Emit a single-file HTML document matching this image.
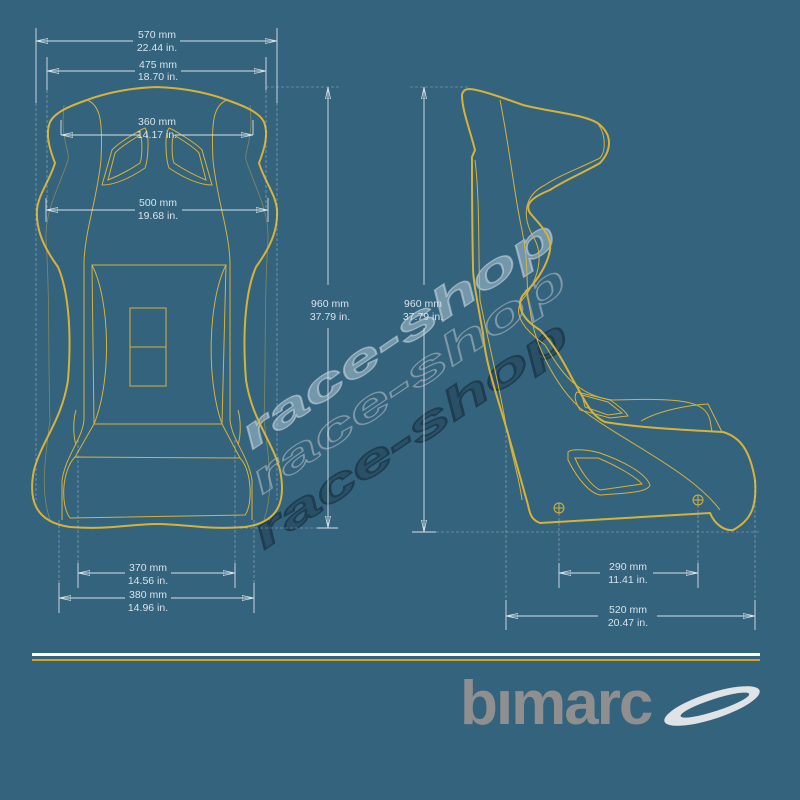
<!DOCTYPE html>
<html><head><meta charset="utf-8"><style>
html,body{margin:0;padding:0;background:#34637d;}
svg{display:block}
text{font-family:"Liberation Sans","DejaVu Sans",sans-serif;}
</style></head><body>
<svg width="800" height="800" viewBox="0 0 800 800" xmlns="http://www.w3.org/2000/svg">
<rect width="800" height="800" fill="#34637d"/>
<defs>
<marker id="a" viewBox="0 0 12 6" refX="12" refY="3" markerWidth="12" markerHeight="6" orient="auto-start-reverse" markerUnits="userSpaceOnUse"><path d="M0,0.5 L12,3 L0,5.5 Z" fill="none" stroke="#d8e2e8" stroke-width="0.8"/></marker>
</defs>

<!-- watermark -->
<g font-weight="bold" font-style="italic" font-size="42">
<text x="0" y="0" transform="translate(252,450) rotate(-34) scale(1.85,1)" fill="#a9c2d0" fill-opacity="0.55" stroke="#c8d8e2" stroke-opacity="0.6" stroke-width="1.2">race-shop</text>
<text x="0" y="0" transform="translate(262,495) rotate(-34) scale(1.85,1)" fill="none" stroke="#7f97a6" stroke-width="1.2">race-shop</text>
<text x="0" y="0" transform="translate(264,550) rotate(-34) scale(1.85,1)" fill="#2a5068" stroke="#1e3d50" stroke-width="1.6">race-shop</text>
</g>

<!-- front seat -->
<g fill="none" stroke="#d7b23a">
<path stroke-width="2" d="M157,87 C125,88 100,95 87,100 C70,106 55,112 50,122 C45,135 50,150 55,163 C50,180 38,195 37,210 C36,228 42,245 58,267 C68,290 72,330 68,380 C62,420 42,440 34,470 C28,500 35,522 70,527 C110,530 130,524 157,524 C185,524 205,530 245,527 C280,522 286,500 280,470 C272,440 252,420 246,380 C242,330 246,290 256,267 C272,245 278,228 277,210 C276,195 264,180 259,163 C264,150 269,135 264,122 C259,112 244,106 227,100 C214,95 189,88 157,87 Z"/>
<g stroke-width="1">
<path d="M87,100 C100,105 103,120 101,160 C97,200 85,230 84,262 L84,420 C82,440 66,455 62,480 L62,520"/>
<path d="M227,100 C214,105 211,120 213,160 C217,200 229,230 230,262 L230,420 C232,440 248,455 252,480 L252,520"/>
<path d="M92,265 L226,265 L222,424 L94,424 Z"/>
<path d="M92,265 C110,300 112,380 94,424 M226,265 C208,300 206,380 222,424"/>
<path d="M75,457 L240,458 C252,470 253,505 245,515 L70,518 C60,505 62,470 75,457 Z"/>
<path d="M94,424 L75,457 M222,424 L240,458"/>
<rect x="130" y="308" width="36" height="78"/>
<line x1="130" y1="347" x2="166" y2="347"/>
<path d="M102,185 L112,150 C118,143 140,130 145,128 C150,135 148,160 145,168 C130,178 115,185 102,185 Z"/>
<path d="M108,180 L115,153 C120,147 135,138 140,135 C143,140 142,158 140,163 C128,171 118,176 108,180 Z"/>
<path d="M212,185 L202,150 C196,143 174,130 169,128 C164,135 166,160 169,168 C184,178 199,185 212,185 Z"/>
<path d="M206,180 L199,153 C194,147 179,138 174,135 C171,140 172,158 174,163 C186,171 196,176 206,180 Z"/>
<path d="M76,410 C73,420 73,435 76,445 M238,410 C241,420 241,435 238,445"/>
</g>
<g stroke-width="0.8" stroke-opacity="0.5">
<path d="M64,105 C60,140 70,150 68,160 C58,190 45,210 46,240 C50,300 48,360 50,420 C45,460 40,490 50,520"/>
<path d="M250,105 C254,140 244,150 246,160 C256,190 269,210 268,240 C264,300 266,360 264,420 C269,460 274,490 264,520"/>
</g>
</g>

<!-- side seat -->
<g fill="none" stroke="#d7b23a">
<path stroke-width="2" d="M470,89 C480,90 495,95 523,105 C550,112 590,115 600,125 C612,135 612,150 600,163 C585,172 565,180 550,190 C530,198 525,205 530,213 C540,225 552,235 550,250 C548,262 540,278 525,293 C515,302 520,318 540,330 C555,345 565,365 573,380 C585,400 590,415 605,422 C640,428 690,430 723,432 C740,437 750,450 755,480 C757,505 752,520 733,530 C725,531 715,525 710,513 L540,523 C532,520 530,515 528,505 C518,470 510,440 507,430 C495,390 485,360 483,333 C477,300 473,280 473,267 C472,220 472,180 472,157 L475,150 C470,130 462,110 462,95 C463,90 466,89 470,89 Z"/>
<g stroke-width="1">
<path d="M596,122 C605,130 607,150 600,158 C580,168 560,175 545,185 C525,195 520,215 535,240 C545,260 535,285 522,300 C512,315 525,330 545,345 C560,370 575,395 612,400 C680,398 705,400 710,420 L712,432"/>
<path d="M577,392 L610,400 C618,405 626,412 628,416 L610,418 L580,410 C574,400 574,395 577,392 Z"/>
<path d="M582,395 L608,402 L622,413 L608,415 L585,407 Z"/>
<path d="M641,421 C660,410 690,405 708,404 L722,432"/>
<path d="M568,452 C572,448 590,450 600,453 C620,460 645,472 650,485 C648,492 630,493 600,495 C590,493 578,480 568,460 Z"/>
<path d="M575,458 L598,458 C615,465 635,476 642,484 L600,490 C590,485 580,470 575,458 Z"/>
<path d="M500,100 C510,150 515,200 522,230 C530,270 525,290 530,310 C535,350 560,390 580,408 C620,440 690,470 720,510 M475,160 C480,200 478,250 480,300 C490,350 498,380 505,420 C510,450 520,480 522,500"/>
<circle cx="559" cy="508" r="5"/><path d="M554,508 h10 M559,503 v10"/>
<circle cx="698" cy="500" r="5"/><path d="M693,500 h10 M698,495 v10"/>
</g>
</g>

<!-- dimension lines -->
<g stroke="#d8e2e8" stroke-width="0.9" fill="none">
<path d="M36,28 V103 M277,28 V103 M47,57 V90 M266,57 V90 M61,120 V135 M253,120 V135 M46,198 V222 M268,198 V222"/>
<path d="M78,563 V588 M235,563 V588 M59,583 V613 M254,583 V613"/>
<path d="M559,563 V588 M698,563 V588 M506,600 V630 M755,600 V630"/>
<path d="M36,41 H133 M180,41 H277" marker-start="url(#a)" marker-end="url(#a)"/>
<path d="M47,71 H135 M181,71 H266" marker-start="url(#a)" marker-end="url(#a)"/>
<path d="M61,135 H140 M175,135 H253" marker-start="url(#a)" marker-end="url(#a)"/>
<path d="M46,210 H135 M182,210 H268" marker-start="url(#a)" marker-end="url(#a)"/>
<path d="M78,573 H125 M171,573 H235" marker-start="url(#a)" marker-end="url(#a)"/>
<path d="M59,598 H125 M171,598 H254" marker-start="url(#a)" marker-end="url(#a)"/>
<path d="M559,573 H600 M653,573 H698" marker-start="url(#a)" marker-end="url(#a)"/>
<path d="M506,616 H598 M657,616 H755" marker-start="url(#a)" marker-end="url(#a)"/>
<path d="M328,87 V285 M328,328 V528" marker-start="url(#a)" marker-end="url(#a)"/>
<path d="M424,87 V285 M424,328 V532" marker-start="url(#a)" marker-end="url(#a)"/>
<path d="M317,528 H338 M412,532 H436"/>
</g>
<g stroke="#d8e2e8" stroke-width="0.6" stroke-dasharray="3,2" fill="none" opacity="0.6">
<path d="M36,103 V500 M277,103 V500 M47,90 V210 M266,90 V210 M266,87 H340 M410,87 H470"/>
<path d="M78,440 V563 M235,440 V563 M59,520 V583 M254,520 V583 M559,513 V563 M698,505 V563 M506,430 V600 M755,480 V600 M436,532 H760 M240,528 H317"/>
</g>
<g fill="#d8e2e8" font-size="10.5" text-anchor="middle">
<text x="157" y="38">570 mm</text><text x="157" y="51">22.44 in.</text>
<text x="158" y="68">475 mm</text><text x="158" y="80">18.70 in.</text>
<text x="157" y="125">360 mm</text><text x="157" y="138">14.17 in.</text>
<text x="158" y="206">500 mm</text><text x="158" y="219">19.68 in.</text>
<text x="148" y="571">370 mm</text><text x="148" y="584">14.56 in.</text>
<text x="148" y="598">380 mm</text><text x="148" y="611">14.96 in.</text>
<text x="330" y="307">960 mm</text><text x="330" y="320">37.79 in.</text>
<text x="423" y="307">960 mm</text><text x="423" y="320">37.79 in.</text>
<text x="628" y="570">290 mm</text><text x="628" y="583">11.41 in.</text>
<text x="628" y="613">520 mm</text><text x="628" y="626">20.47 in.</text>
</g>

<!-- bottom stripes -->
<rect x="32" y="653" width="728" height="3" fill="#ffffff"/>
<rect x="32" y="659" width="728" height="2" fill="#d4a51e"/>

<!-- logo -->
<text x="460" y="724" font-size="62" font-weight="bold" fill="#8f8f8f" letter-spacing="-2">bımarc</text>
<g transform="translate(712,706) rotate(-18)">
<ellipse cx="0" cy="0" rx="50" ry="13" fill="#dfe3e6"/>
<ellipse cx="3" cy="0" rx="36" ry="6" fill="#34637d"/>
</g>
</svg>
</body></html>
